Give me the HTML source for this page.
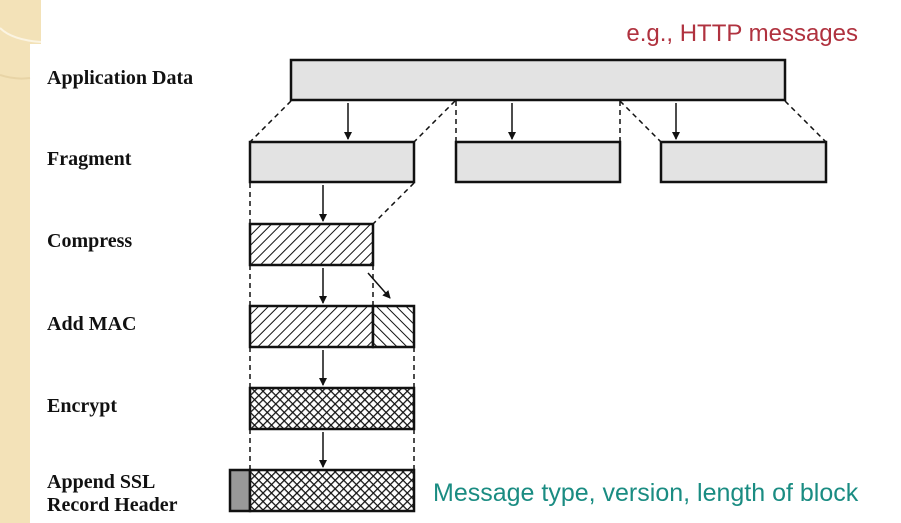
<!DOCTYPE html>
<html><head><meta charset="utf-8"><style>
html,body{margin:0;padding:0;background:#fff;}
svg{display:block;}
.lbl{font-family:"Liberation Serif",serif;font-weight:bold;font-size:20px;fill:#111;}
</style></head><body>
<svg width="901" height="523" viewBox="0 0 901 523">
<defs>
<pattern id="hatch" width="7" height="7" patternUnits="userSpaceOnUse" patternTransform="rotate(45)">
<rect width="7" height="7" fill="#fff"/><line x1="0" y1="0" x2="0" y2="7" stroke="#111" stroke-width="2"/></pattern>
<pattern id="hatch2" width="7" height="7" patternUnits="userSpaceOnUse" patternTransform="rotate(-45)">
<rect width="7" height="7" fill="#fff"/><line x1="0" y1="0" x2="0" y2="7" stroke="#111" stroke-width="2"/></pattern>
<pattern id="cross" width="6" height="6" patternUnits="userSpaceOnUse" patternTransform="rotate(45)">
<rect width="6" height="6" fill="#fff"/><line x1="0" y1="0" x2="0" y2="6" stroke="#111" stroke-width="2.5"/><line x1="0" y1="0" x2="6" y2="0" stroke="#111" stroke-width="2.5"/></pattern>
<marker id="ah" markerWidth="8" markerHeight="8" refX="7" refY="4" orient="auto" markerUnits="userSpaceOnUse"><path d="M0,0 L8,4 L0,8 z" fill="#111"/></marker>
</defs>
<g>
<rect x="0" y="0" width="30" height="523" fill="#f3e2b8"/>
<rect x="0" y="0" width="41" height="44" fill="#f3e2b8"/>
<path d="M0,28 Q12,40 41,42" stroke="#fbf4e2" stroke-width="2" fill="none"/>
<path d="M0,75 Q15,80 30,78" stroke="#e8d4a6" stroke-width="2" fill="none"/>
</g>
<text class="lbl" x="47" y="84">Application Data</text>
<text class="lbl" x="47" y="165">Fragment</text>
<text class="lbl" x="47" y="247">Compress</text>
<text class="lbl" x="47" y="330">Add MAC</text>
<text class="lbl" x="47" y="412">Encrypt</text>
<text class="lbl" x="47" y="488">Append SSL</text>
<text class="lbl" x="47" y="511">Record Header</text>
<g stroke="#111" stroke-width="1.5" stroke-dasharray="5,4" fill="none">
<line x1="291" y1="101" x2="250" y2="142"/><line x1="455" y1="101" x2="414" y2="142"/>
<line x1="456" y1="101" x2="456" y2="142"/><line x1="620" y1="101" x2="620" y2="142"/>
<line x1="620" y1="101" x2="661" y2="142"/><line x1="785" y1="101" x2="826" y2="142"/>
<line x1="250" y1="183" x2="250" y2="224"/><line x1="414" y1="183" x2="373" y2="224"/>
<line x1="250" y1="265" x2="250" y2="306"/><line x1="373" y1="265" x2="373" y2="306"/>
<line x1="250" y1="347" x2="250" y2="388"/><line x1="414" y1="347" x2="414" y2="388"/>
<line x1="250" y1="429" x2="250" y2="470"/><line x1="414" y1="429" x2="414" y2="470"/>
</g>
<g stroke="#111" stroke-width="2.5">
<rect x="291" y="60" width="494" height="40" fill="#e3e3e3"/>
<rect x="250" y="142" width="164" height="40" fill="#e3e3e3"/>
<rect x="456" y="142" width="164" height="40" fill="#e3e3e3"/>
<rect x="661" y="142" width="165" height="40" fill="#e3e3e3"/>
<rect x="250" y="224" width="123" height="41" fill="url(#hatch)"/>
<rect x="250" y="306" width="123" height="41" fill="url(#hatch)"/>
<rect x="373" y="306" width="41" height="41" fill="url(#hatch2)"/>
<rect x="250" y="388" width="164" height="41" fill="url(#cross)"/>
<rect x="230" y="470" width="20" height="41" fill="#999"/>
<rect x="250" y="470" width="164" height="41" fill="url(#cross)"/>
</g>
<g stroke="#111" stroke-width="1.5" marker-end="url(#ah)">
<line x1="348" y1="103" x2="348" y2="139"/><line x1="512" y1="103" x2="512" y2="139"/><line x1="676" y1="103" x2="676" y2="139"/>
<line x1="323" y1="185" x2="323" y2="221"/><line x1="323" y1="268" x2="323" y2="303"/>
<line x1="368" y1="273" x2="390" y2="298"/>
<line x1="323" y1="350" x2="323" y2="385"/><line x1="323" y1="432" x2="323" y2="467"/>
</g>
<text x="858" y="41" text-anchor="end" font-family="Liberation Sans,sans-serif" font-size="24" fill="#b0323f">e.g., HTTP messages</text>
<text x="433" y="501" font-family="Liberation Sans,sans-serif" font-size="25" fill="#1a8c82">Message type, version, length of block</text>
</svg>
</body></html>
